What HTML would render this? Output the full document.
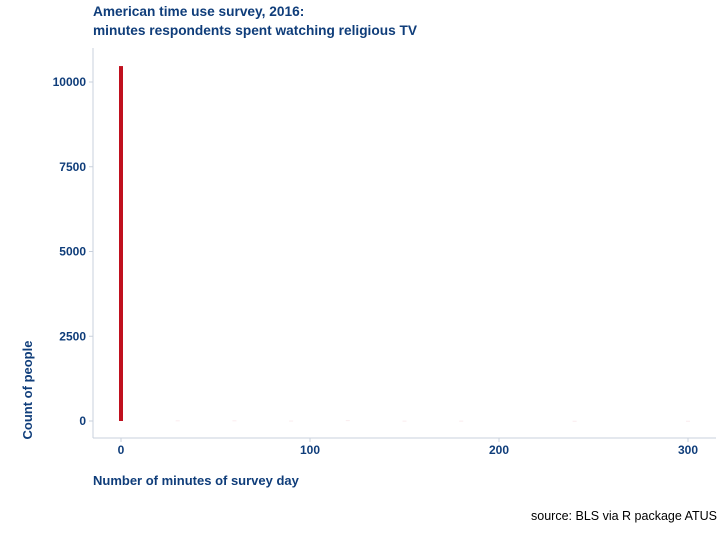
<!DOCTYPE html>
<html><head><meta charset="utf-8">
<style>
body{margin:0;background:#fff;}
svg{display:block;font-family:"Liberation Sans",sans-serif;}
</style></head>
<body>
<svg id="chart" width="722" height="540">
<text x="93" y="16" font-size="13.7" font-weight="bold" fill="#0f3d7a">American time use survey, 2016:</text>
<text x="93" y="35" font-size="13.7" font-weight="bold" fill="#0f3d7a">minutes respondents spent watching religious TV</text>
<line x1="93" y1="48" x2="93" y2="438" stroke="#c8d0dc"/>
<line x1="93" y1="438" x2="716" y2="438" stroke="#c8d0dc"/>
<g id="yticks"></g><g id="xticks"></g><g id="bars"></g>
<text x="32" y="390" font-size="13" font-weight="bold" fill="#0f3d7a" transform="rotate(-90 32 390)" text-anchor="middle">Count of people</text>
<text x="93" y="485" font-size="13" font-weight="bold" fill="#0f3d7a">Number of minutes of survey day</text>
<text x="717" y="520" font-size="12.5" fill="#000" text-anchor="end">source: BLS via R package ATUS</text>
</svg>
<script>
const minutes=[0,30,60,90,120,150,180,240,300];
const counts=[10470,6,6,4,8,3,3,2,2];
const xTicks=[0,100,200,300];
const yTicks=[0,2500,5000,7500,10000];
const NS="http://www.w3.org/2000/svg";
function xs(v){return 121+v*1.89;}
function ys(v){return 421-v*0.0339;}
function mk(t,a,p){const e=document.createElementNS(NS,t);for(const k in a)e.setAttribute(k,a[k]);p.appendChild(e);return e;}
const yg=document.getElementById('yticks'),xg=document.getElementById('xticks'),bg=document.getElementById('bars');
yTicks.forEach(v=>{
 const l=mk('line',{x1:89,x2:93,y1:ys(v),y2:ys(v),stroke:'#c8d0dc'},yg);
 
 
 const t=mk('text',{x:86,y:ys(v)+4,'font-size':12,'font-weight':'bold',fill:'#0f3d7a','text-anchor':'end'},yg);
 t.textContent=v;
 
 
});
xTicks.forEach(v=>{
 const l=mk('line',{x1:xs(v),x2:xs(v),y1:438,y2:442,stroke:'#c8d0dc'},xg);
 
 
 const t=mk('text',{x:xs(v),y:454,'font-size':12,'font-weight':'bold',fill:'#0f3d7a','text-anchor':'middle'},xg);
 t.textContent=v;
 
 
});
minutes.forEach((m,i)=>{
 const y=ys(counts[i]);
 const r=mk('rect',{x:xs(m)-2,y:y,width:4,height:Math.max(421-y,0.3),fill:'#c0101e','fill-opacity':counts[i]>100?1:0.25},bg);
 
 
});
</script>
</body></html>
